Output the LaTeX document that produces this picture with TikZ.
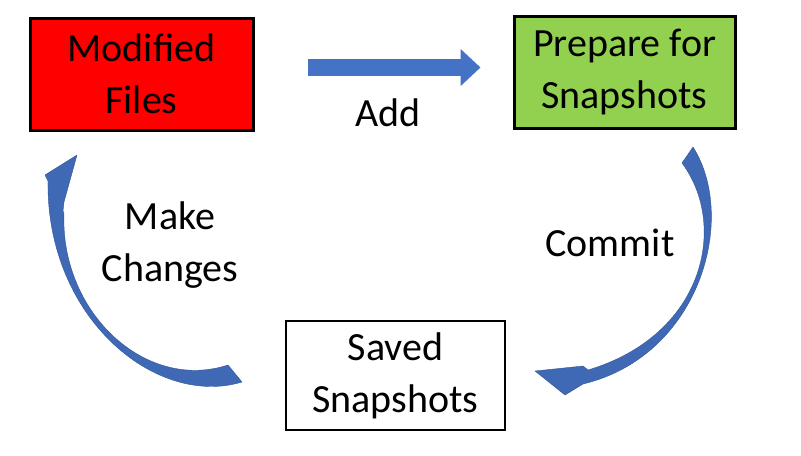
\documentclass[tikz,border=0pt]{standalone}
\usepackage{fontspec}
\setmainfont{Carlito}
\usetikzlibrary{arrows.meta}
\definecolor{modred}{HTML}{FF0000}
\definecolor{prepgreen}{HTML}{92D050}
\definecolor{arrowblue}{HTML}{4472C4}
\definecolor{curveblue}{HTML}{3F68B5}
\definecolor{arrowedge}{HTML}{33579A}
\tikzset{box/.style={draw, line width=1.5pt, minimum width=110pt, minimum height=56pt, inner sep=0pt, align=center, font=\fontsize{20}{26}\selectfont}}
\tikzset{lbl/.style={align=center, font=\fontsize{20}{26}\selectfont}}
\tikzset{blockarrow/.style={draw=arrowblue, line width=8.5pt, -{Triangle[length=10pt,width=18pt]}}}
\tikzset{curvearrow/.style={fill=curveblue, draw=arrowedge, line width=0.2pt, line join=round}}

\begin{document}
\begin{tikzpicture}[x=0.5pt,y=-0.5pt]
\useasboundingbox (0,0) rectangle (801,455);

\node (mod) [box, fill=modred, minimum width=111.5pt] at (141.5,74) {Modified\\Files};
\node (prep) [box, fill=prepgreen, minimum width=110.5pt] at (624.5,72) {Prepare for\\Snapshots};
\node (saved) [box, fill=white, minimum width=109.5pt, minimum height=54.5pt, line width=1.2pt] at (395.5,375.5) {Saved\\Snapshots};

\node (add) [lbl] at (388,113) {Add};
\node (commit) [lbl] at (610,243) {Commit};
\node (change) [lbl] at (170,245) {Make\\Changes};

\coordinate (committip) at (535,371);
\coordinate (changetip) at (77,155);

\draw[blockarrow] ([xshift=26.5pt,yshift=3.25pt]mod.east) -- ([xshift=-16pt,yshift=2.25pt]prep.west);

\path[curvearrow] (693,147) .. controls (738,218) and (700,356) .. (583,384)
  -- (565,395) -- (committip) -- (583,366) -- (588,370)
  .. controls (705,335) and (728,225) .. (682,163) -- cycle;

\path[curvearrow] (228,365) .. controls (145,392) and (60,312) .. (64,213)
  -- (63,211) -- (64,202) -- (changetip) -- (45,175) -- (48,181)
  .. controls (46,318) and (156,408) .. (242,382) -- cycle;
\end{tikzpicture}
\end{document}
